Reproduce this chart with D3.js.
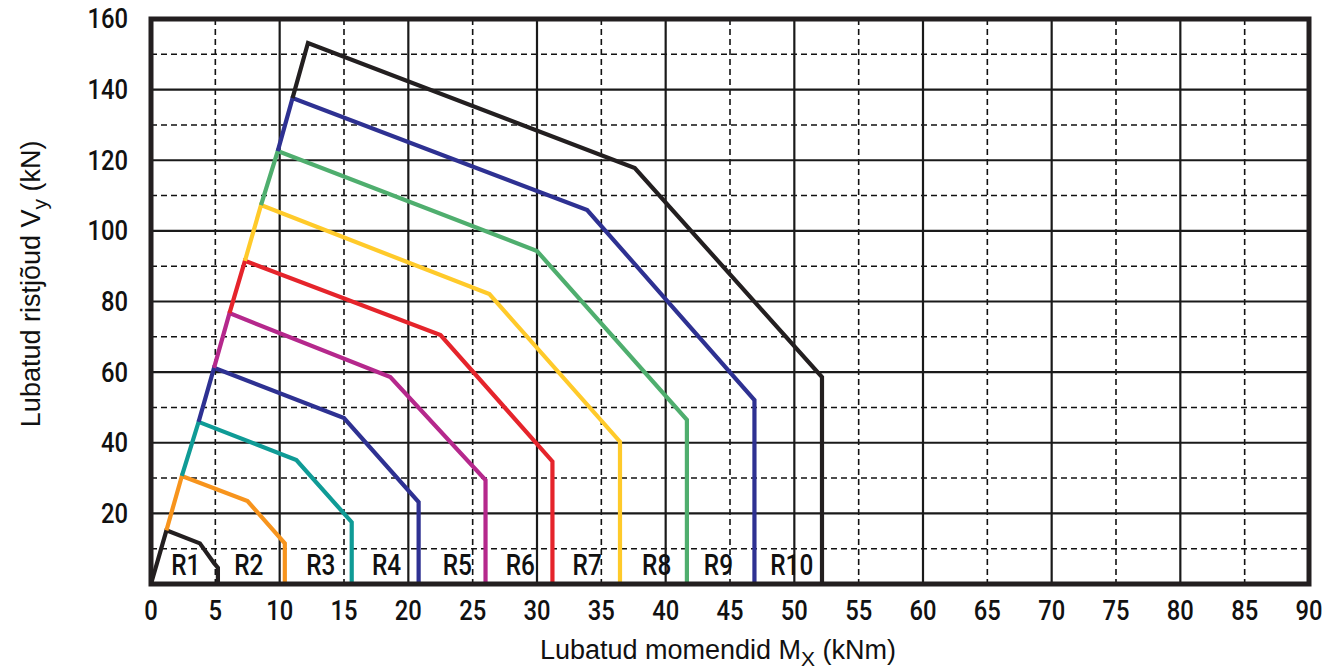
<!DOCTYPE html>
<html>
<head>
<meta charset="utf-8">
<script src="https://cdn.jsdelivr.net/npm/d3@7"></script>
<style>
	body { margin: 0; background: #fff; }
	svg { display: block; }
	.tick-label { font-family: Roboto, "Liberation Sans", sans-serif; font-weight: 500; font-size: 27px; fill: #111; }
	.r-label { font-family: Roboto, "Liberation Sans", sans-serif; font-weight: 500; font-size: 29px; fill: #111; }
	.axis-title { font-family: "Liberation Sans", Arial, sans-serif; font-size: 27px; fill: #111; }
</style>
</head>
<body>
<svg id="chart"></svg>
<script>
// curve names and colours
const names = ['R1', 'R2', 'R3', 'R4', 'R5', 'R6', 'R7', 'R8', 'R9', 'R10']
const colors = ['#231f20', '#f7941d', '#0f9b96', '#2e3192', '#b5288c', '#e5242b', '#ffca2a', '#4fae6e', '#2e3192', '#231f20']

// [M_x, V_y]; every curve starts at the peak of the previous one
const r1 = [[0, 0], [1.2, 15.2], [3.8, 11.5], [4.9, 5.9], [5.2, 4.6], [5.2, 0]]
const r2 = [[1.2, 15.2], [2.4, 30.6], [7.5, 23.5], [10.4, 11.5], [10.4, 0]]
const r3 = [[2.4, 30.6], [3.7, 45.9], [11.3, 35.1], [15.6, 17.5], [15.6, 0]]
const r4 = [[3.7, 45.9], [4.9, 61.2], [15.0, 47.0], [20.8, 23.2], [20.8, 0]]
const r5 = [[4.9, 61.2], [6.1, 76.7], [18.6, 58.6], [26.0, 29.4], [26.0, 0]]
const r6 = [[6.1, 76.7], [7.3, 91.5], [22.5, 70.5], [31.2, 34.7], [31.2, 0]]
const r7 = [[7.3, 91.5], [8.55, 107.3], [26.3, 82.1], [36.45, 40.3], [36.45, 0]]
const r8 = [[8.55, 107.3], [9.85, 122.6], [30.0, 94.3], [41.65, 46.5], [41.65, 0]]
const r9 = [[9.85, 122.6], [11.0, 137.6], [33.9, 105.9], [46.9, 52.1], [46.9, 0]]
const r10 = [[11.0, 137.6], [12.2, 153.2], [37.6, 117.8], [52.15, 58.6], [52.15, 0]]
const series = [r1, r2, r3, r4, r5, r6, r7, r8, r9, r10]

// label positions along the bottom
const labelX = [2.7, 7.6, 13.2, 18.3, 23.8, 28.7, 33.9, 39.3, 44.1, 49.8]
const labelY = 5.5

const xTicks = d3.range(0, 91, 5)
const yTicks = d3.range(20, 161, 20)

const outerWidth = 1337
const outerHeight = 671
const margin = { top: 19, right: 28, bottom: 87, left: 151 }
const width = outerWidth - margin.left - margin.right
const height = outerHeight - margin.top - margin.bottom

const svg = d3.select('#chart')
	.attr('width', outerWidth)
	.attr('height', outerHeight)
.append('g')
	.attr('transform', `translate(${margin.left}, ${margin.top})`)

const x = d3.scaleLinear().domain([0, 90]).range([0, width])
const y = d3.scaleLinear().domain([0, 160]).range([height, 0])

// minor (dashed) grid
svg.append('g')
	.selectAll('line')
	.data(d3.range(5, 90, 10))
	.join('line')
		.attr('x1', d => x(d)).attr('x2', d => x(d))
		.attr('y1', 0).attr('y2', height)
		.attr('stroke', '#111').attr('stroke-width', 1.6)
		.attr('stroke-dasharray', '6,4')

svg.append('g')
	.selectAll('line')
	.data(d3.range(10, 160, 20))
	.join('line')
		.attr('x1', 0).attr('x2', width)
		.attr('y1', d => y(d)).attr('y2', d => y(d))
		.attr('stroke', '#111').attr('stroke-width', 1.6)
		.attr('stroke-dasharray', '6,4')

// major grid
svg.append('g')
	.selectAll('line')
	.data(d3.range(10, 90, 10))
	.join('line')
		.attr('x1', d => x(d)).attr('x2', d => x(d))
		.attr('y1', 0).attr('y2', height)
		.attr('stroke', '#1a1a1a').attr('stroke-width', 2.2)

svg.append('g')
	.selectAll('line')
	.data(d3.range(20, 160, 20))
	.join('line')
		.attr('x1', 0).attr('x2', width)
		.attr('y1', d => y(d)).attr('y2', d => y(d))
		.attr('stroke', '#1a1a1a').attr('stroke-width', 2.2)

// curves
const line = d3.line()
	.x(d => x(d[0]))
	.y(d => y(d[1]))

svg.append('g')
	.selectAll('path')
	.data(series)
	.join('path')
		.attr('d', line)
		.attr('fill', 'none')
		.attr('stroke', (d, i) => colors[i])
		.attr('stroke-width', 4.2)
		.attr('stroke-linejoin', 'miter')

// frame
svg.append('rect')
	.attr('width', width)
	.attr('height', height)
	.attr('fill', 'none')
	.attr('stroke', '#231f20')
	.attr('stroke-width', 5)

// curve labels (condensed by a horizontal squeeze)
svg.append('g')
	.selectAll('text')
	.data(names)
	.join('text')
		.attr('class', 'r-label')
		.attr('transform', (d, i) => `translate(${x(labelX[i])}, ${y(labelY)}) scale(0.84, 1)`)
		.attr('dy', '0.35em')
		.attr('text-anchor', 'middle')
		.text(d => d)

// tick labels
svg.append('g')
	.selectAll('text')
	.data(xTicks)
	.join('text')
		.attr('class', 'tick-label')
		.attr('transform', d => `translate(${x(d)}, ${height + 27}) scale(0.88, 1)`)
		.attr('dy', '0.35em')
		.attr('text-anchor', 'middle')
		.text(d => d)

svg.append('g')
	.selectAll('text')
	.data(yTicks)
	.join('text')
		.attr('class', 'tick-label')
		.attr('transform', d => `translate(-23, ${y(d)}) scale(0.88, 1)`)
		.attr('dy', '0.35em')
		.attr('text-anchor', 'end')
		.text(d => d)

// axis titles
const xTitle = svg.append('text')
	.attr('class', 'axis-title')
	.attr('x', width / 2 - 12)
	.attr('y', height + 75)
	.attr('text-anchor', 'middle')
xTitle.append('tspan').text('Lubatud momendid M')
xTitle.append('tspan').attr('font-size', 21).attr('dy', 7).text('X')
xTitle.append('tspan').attr('dy', -7).text(' (kNm)')

const yTitle = svg.append('text')
	.attr('class', 'axis-title')
	.attr('transform', `translate(${-111}, ${y(85)}) rotate(-90)`)
	.attr('text-anchor', 'middle')
yTitle.append('tspan').text('Lubatud ristjõud V')
yTitle.append('tspan').attr('font-size', 21).attr('dy', 7).text('y')
yTitle.append('tspan').attr('dy', -7).text(' (kN)')
</script>
</body>
</html>
